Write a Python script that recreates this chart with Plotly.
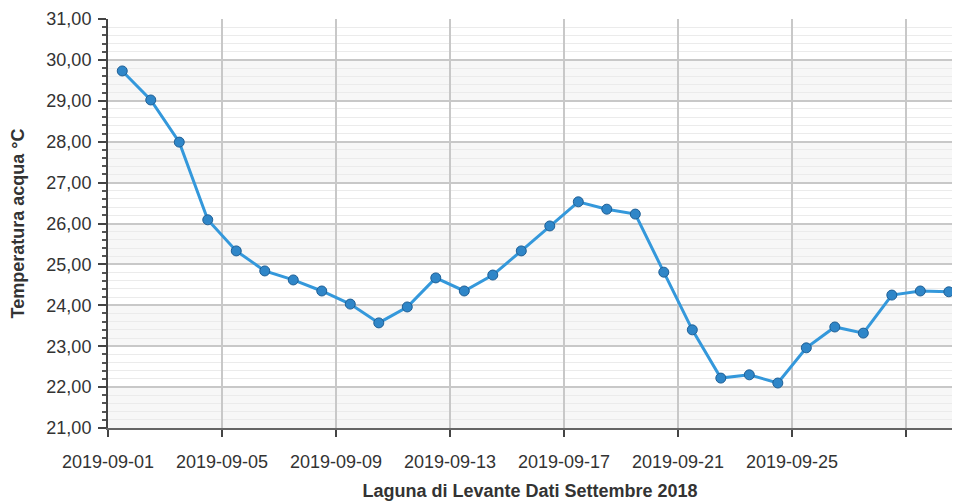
import plotly.graph_objects as go

dates = [f"2019-09-{d:02d} 12:00" for d in range(1, 31)]
temps = [29.73, 29.02, 27.99, 26.09, 25.33, 24.84, 24.62, 24.35, 24.03, 23.57,
         23.96, 24.67, 24.35, 24.74, 25.33, 25.94, 26.53, 26.35, 26.23, 24.81,
         23.40, 22.22, 22.30, 22.10, 22.96, 23.47, 23.32, 24.25, 24.35, 24.33]

x_tickvals = ["2019-09-01", "2019-09-05", "2019-09-09", "2019-09-13",
              "2019-09-17", "2019-09-21", "2019-09-25", "2019-09-29"]
x_ticktext = ["2019-09-01", "2019-09-05", "2019-09-09", "2019-09-13",
              "2019-09-17", "2019-09-21", "2019-09-25", ""]
y_ticks = list(range(21, 32))

fig = go.Figure()
fig.add_trace(go.Scatter(
    x=dates, y=temps, mode="lines+markers",
    line=dict(color="#3498db", width=3),
    marker=dict(size=10, color="#2f86c8", line=dict(color="#1f5f95", width=1)),
    hoverinfo="x+y", showlegend=False,
))

shapes = []
for i in range(len(y_ticks) - 1):
    hi = y_ticks[-1 - i]
    lo = y_ticks[-2 - i]
    if i % 2 == 1:
        shapes.append(dict(type="rect", xref="paper", yref="y", x0=0, x1=1,
                           y0=lo, y1=hi, fillcolor="#f7f7f7", line=dict(width=0),
                           layer="below"))

font = "Liberation Sans, Arial, sans-serif"
fig.update_layout(
    width=954, height=502,
    margin=dict(l=108, r=2, t=19, b=74),
    paper_bgcolor="white", plot_bgcolor="white",
    font=dict(family=font, size=18, color="#333333"),
    shapes=shapes,
    xaxis=dict(
        type="date", automargin=False,
        range=["2019-09-01 00:00", "2019-09-30 14:40"],
        tickvals=x_tickvals, ticktext=x_ticktext,
        showgrid=True, gridcolor="#c8c8c8", gridwidth=1.5,
        showline=True, linecolor="#666666", linewidth=2,
        ticks="outside", ticklen=7, tickcolor="#444444", tickwidth=2,
        ticklabelstandoff=9,
        tickfont=dict(family=font, size=18, color="#333333"),
        title=dict(text="<b>Laguna di Levante Dati Settembre 2018</b>",
                   font=dict(family=font, size=18, color="#333333"), standoff=14),
        zeroline=False,
    ),
    yaxis=dict(
        automargin=False,
        range=[21, 31], tickvals=y_ticks, tickformat=".2f",
        showgrid=True, gridcolor="#c8c8c8", gridwidth=1.5,
        showline=True, linecolor="#444444", linewidth=2,
        ticks="outside", ticklen=8, tickcolor="#444444", tickwidth=2,
        ticklabelstandoff=3,
        tickfont=dict(family=font, size=18, color="#333333"),
        minor=dict(dtick=0.2, showgrid=True, gridcolor="#ebebeb", gridwidth=1,
                   ticks="outside", ticklen=4, tickcolor="#555555", tickwidth=1.5),
        title=dict(text="<b>Temperatura acqua °C</b>",
                   font=dict(family=font, size=18, color="#333333"), standoff=17),
        zeroline=False,
    ),
    separators=",.",
)

fig.write_html(
    "out.html",
    config={"responsive": False, "displayModeBar": False},
    post_script="document.body.style.margin='0px';document.body.style.overflow='hidden';",
)
